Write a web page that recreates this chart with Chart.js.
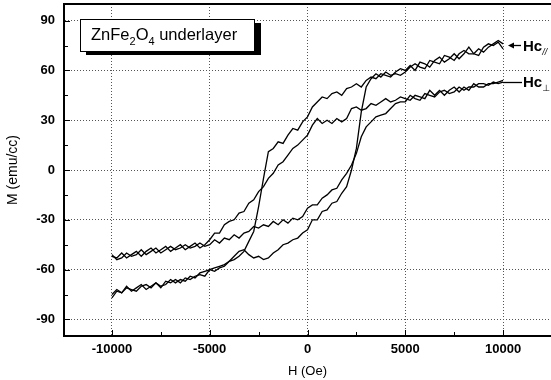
<!DOCTYPE html>
<html>
<head>
<meta charset="utf-8">
<script src="https://cdn.jsdelivr.net/npm/chart.js@4.4.1/dist/chart.umd.min.js"></script>
<style>
  html, body { margin: 0; padding: 0; background: #fff; }
  canvas { display: block; }
</style>
</head>
<body>
<canvas id="loopChart" width="551" height="380"></canvas>
<script>
// applied field H (Oe), shared by all four branches
const field = [-10000, -9750, -9500, -9250, -9000, -8750, -8500, -8250, -8000, -7750, -7500, -7250,
  -7000, -6750, -6500, -6250, -6000, -5750, -5500, -5250, -5000, -4750, -4500, -4250,
  -4000, -3750, -3500, -3250, -3000, -2750, -2500, -2250, -2000, -1750, -1500, -1250,
  -1000, -750, -500, -250, 0, 250, 500, 750, 1000, 1250, 1500, 1750, 2000, 2250, 2500, 2750,
  3000, 3250, 3500, 3750, 4000, 4250, 4500, 4750, 5000, 5250, 5500, 5750, 6000, 6250, 6500, 6750,
  7000, 7250, 7500, 7750, 8000, 8250, 8500, 8750, 9000, 9250, 9500, 9750, 10000];

// in-plane loop (Hc //), emu/cc
const parUpper = [-75, -72, -74, -70, -73, -71, -69, -72, -70, -68, -71, -67,
  -68, -66, -68, -65, -66, -64, -63, -64, -60, -59, -58, -57,
  -55, -54, -52, -49, -43, -37, -22, -5, 11, 13, 17, 16,
  21, 25, 24, 29, 32, 38, 41, 44, 43, 46, 47, 45, 49, 50, 52, 50,
  54, 56, 55, 58, 57, 56, 59, 61, 60, 63, 60, 65, 64, 62, 66, 68,
  65, 67, 70, 67, 70, 74, 70, 69, 74, 76, 75, 77, 73];
const parLower = [-77, -73, -74, -71, -72, -73, -70, -69, -71, -68, -70, -69,
  -66, -68, -66, -67, -64, -65, -62, -61, -60, -61, -59, -58,
  -55, -52, -49, -48, -51, -53, -52, -54, -53, -50, -48, -45,
  -44, -42, -41, -38, -36, -30, -30, -25, -24, -20, -19, -14, -10, 0, 13, 35,
  50, 55, 58, 56, 59, 57, 58, 57, 59, 62, 64, 62, 61, 66, 65, 64,
  69, 68, 66, 70, 72, 70, 70, 73, 71, 74, 76, 78, 76];

// perpendicular loop (Hc ⊥), emu/cc
const perUpper = [-52, -53, -50, -53, -51, -49, -52, -49, -47, -50, -48, -46,
  -49, -47, -45, -48, -46, -44, -47, -45, -42, -38, -38, -33,
  -31, -30, -26, -25, -20, -18, -13, -10, -5, -2, 3, 5,
  9, 13, 15, 18, 21, 27, 31, 28, 30, 28, 31, 29, 31, 37, 38, 36,
  37, 40, 39, 41, 43, 41, 42, 44, 43, 42, 45, 44, 43, 48, 45, 48,
  45, 48, 50, 47, 50, 48, 52, 50, 50, 52, 52, 53, 54];
const perLower = [-51, -54, -53, -50, -52, -51, -48, -51, -49, -47, -50, -48,
  -46, -48, -47, -45, -47, -46, -44, -46, -45, -42, -44, -41,
  -42, -39, -41, -38, -37, -34, -35, -33, -34, -31, -33, -30,
  -32, -29, -30, -28, -23, -21, -21, -17, -15, -12, -11, -6, -2, 3, 10, 20,
  26, 29, 32, 33, 34, 37, 40, 41, 41, 45, 43, 42, 46, 45, 44, 47,
  48, 46, 47, 50, 48, 50, 50, 52, 52, 51, 53, 52, 53];

const xTicks = [-10000, -5000, 0, 5000, 10000];
const yTicks = [-90, -60, -30, 0, 30, 60, 90];

function toPoints(values) {
  return values.map((m, i) => ({ x: field[i], y: m }));
}

function midpoints(ticks) {
  const out = [];
  for (let i = 0; i < ticks.length - 1; i++) out.push((ticks[i] + ticks[i + 1]) / 2);
  return out;
}

function drawParts(ctx, x, y, parts) {
  parts.forEach(p => {
    ctx.font = p.font;
    ctx.fillText(p.text, x, y + (p.dy || 0));
    x += ctx.measureText(p.text).width;
  });
}

const FONT = "'Liberation Sans', Arial, sans-serif";

// frame top line, inward tick marks, sample box and Hc labels
const decorPlugin = {
  id: 'decor',
  afterDraw(chart) {
    const { ctx, chartArea: a, scales: { x, y } } = chart;
    ctx.save();
    ctx.strokeStyle = '#000';
    ctx.fillStyle = '#000';

    ctx.lineWidth = 2;
    ctx.beginPath();
    ctx.moveTo(a.left - 1, a.top);
    ctx.lineTo(a.right, a.top);
    ctx.stroke();

    ctx.lineWidth = 1;
    ctx.beginPath();
    xTicks.forEach(v => { const px = Math.round(x.getPixelForValue(v)) + 0.5; ctx.moveTo(px, a.bottom); ctx.lineTo(px, a.bottom - 6); });
    midpoints(xTicks).forEach(v => { const px = Math.round(x.getPixelForValue(v)) + 0.5; ctx.moveTo(px, a.bottom); ctx.lineTo(px, a.bottom - 4); });
    yTicks.forEach(v => { const py = Math.round(y.getPixelForValue(v)) + 0.5; ctx.moveTo(a.left, py); ctx.lineTo(a.left + 6, py); });
    midpoints(yTicks).forEach(v => { const py = Math.round(y.getPixelForValue(v)) + 0.5; ctx.moveTo(a.left, py); ctx.lineTo(a.left + 4, py); });
    ctx.stroke();

    // sample label box with drop shadow
    ctx.fillRect(86, 23, 175, 32);
    ctx.fillStyle = '#fff';
    ctx.fillRect(80, 19, 174, 32);
    ctx.strokeRect(80.5, 19.5, 174, 32);
    ctx.fillStyle = '#000';
    ctx.textBaseline = 'alphabetic';
    drawParts(ctx, 91, 40, [
      { text: 'ZnFe', font: '16.5px ' + FONT },
      { text: '2', font: '11px ' + FONT, dy: 5 },
      { text: 'O', font: '16.5px ' + FONT },
      { text: '4', font: '11px ' + FONT, dy: 5 },
      { text: ' underlayer', font: '16.5px ' + FONT }
    ]);

    // Hc // with arrow
    ctx.lineWidth = 1.3;
    ctx.beginPath();
    ctx.moveTo(513, 45.5);
    ctx.lineTo(521, 45.5);
    ctx.stroke();
    ctx.beginPath();
    ctx.moveTo(508, 45.5);
    ctx.lineTo(514, 42.5);
    ctx.lineTo(514, 48.5);
    ctx.closePath();
    ctx.fill();
    drawParts(ctx, 523, 51, [
      { text: 'Hc', font: 'bold 15px ' + FONT },
      { text: '//', font: 'italic 9px ' + FONT, dy: 4 }
    ]);

    // Hc ⊥ with leader line
    ctx.beginPath();
    ctx.moveTo(503, 82.5);
    ctx.lineTo(522, 82.5);
    ctx.stroke();
    drawParts(ctx, 523, 87, [
      { text: 'Hc', font: 'bold 15px ' + FONT },
      { text: '⊥', font: '9px DejaVu Sans', dy: 4 }
    ]);
    ctx.restore();
  }
};

const lineStyle = { borderColor: '#000', borderWidth: 1.3, pointRadius: 0, showLine: true, tension: 0, fill: false };

new Chart(document.getElementById('loopChart'), {
  type: 'scatter',
  data: {
    datasets: [
      { label: 'par upper', data: toPoints(parUpper), ...lineStyle },
      { label: 'par lower', data: toPoints(parLower), ...lineStyle },
      { label: 'perp upper', data: toPoints(perUpper), ...lineStyle },
      { label: 'perp lower', data: toPoints(perLower), ...lineStyle }
    ]
  },
  options: {
    responsive: false,
    animation: false,
    devicePixelRatio: 1,
    layout: { padding: { top: 4, left: 0, right: 0, bottom: 0 } },
    plugins: { legend: { display: false }, tooltip: { enabled: false } },
    scales: {
      x: {
        type: 'linear',
        min: -12450,
        max: 12450,
        afterBuildTicks: s => { s.ticks = xTicks.map(v => ({ value: v })); },
        afterFit: s => { s.height = 44; s.paddingLeft = 0; s.paddingRight = 0; },
        ticks: {
          color: '#000',
          font: { family: FONT, size: 13, weight: 'bold' },
          padding: 6,
          maxRotation: 0,
          autoSkip: false,
          callback: v => String(v)
        },
        grid: { color: '#555', lineWidth: 1, drawTicks: false },
        border: { display: true, color: '#000', width: 2, dash: [1, 2] },
        title: { display: true, text: 'H (Oe)', color: '#000', font: { family: FONT, size: 13 }, padding: { top: 0, bottom: 1 } }
      },
      y: {
        type: 'linear',
        min: -100,
        max: 100,
        afterBuildTicks: s => { s.ticks = yTicks.map(v => ({ value: v })); },
        afterFit: s => { s.width = 64; s.paddingTop = 0; s.paddingBottom = 0; },
        ticks: {
          color: '#000',
          font: { family: FONT, size: 13, weight: 'bold' },
          padding: 9,
          autoSkip: false,
          callback: v => String(v)
        },
        grid: { color: '#555', lineWidth: 1, drawTicks: false },
        border: { display: true, color: '#000', width: 2, dash: [1, 2] },
        title: { display: true, text: 'M (emu/cc)', color: '#000', font: { family: FONT, size: 14 }, padding: { top: 5, bottom: 0 } }
      }
    }
  },
  plugins: [decorPlugin]
});
</script>
</body>
</html>
